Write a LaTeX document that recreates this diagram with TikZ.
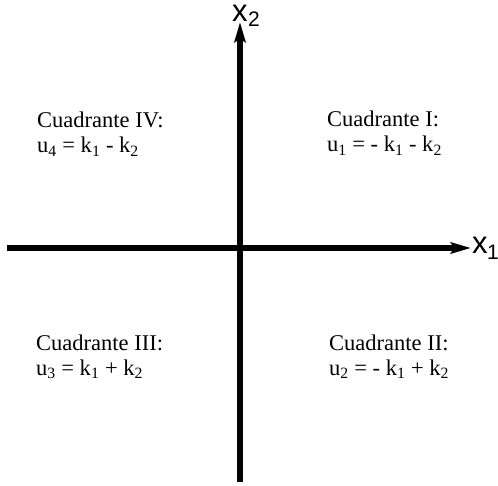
\documentclass[tikz,border=0pt]{standalone}
\usepackage{fontspec}
\setmainfont{Liberation Serif}
\newfontfamily\axisfont{Liberation Sans}
\usetikzlibrary{arrows.meta}
\tikzset{
  axis/.style={line width=6pt, -{Stealth[length=20pt,width=11pt,inset=3pt]}},
  qtext/.style={anchor=base west, inner sep=0pt, font=\fontsize{22.5}{24}\selectfont},
  axlabel/.style={anchor=base west, inner sep=0pt, font=\axisfont\fontsize{31}{34}\selectfont},
  axsub/.style={anchor=base west, inner sep=0pt, font=\axisfont\fontsize{21}{22}\selectfont}
}
\begin{document}
\begin{tikzpicture}[x=1pt,y=-1pt]
\useasboundingbox (0,0) rectangle (498,486);
\coordinate (xl) at (7,248);
\coordinate (xr) at (471,248);
\coordinate (yb) at (240,482);
\coordinate (yt) at (240,22);
\draw[axis] (xl) -- (xr);
\draw[axis] (yb) -- (yt);
\node[axlabel] (x1) at (472,254) {x};
\node[axsub] (x1s) at (487,260) {1};
\node[axlabel] (x2) at (232,21.5) {x};
\node[axsub] (x2s) at (248,27) {2};
\node[qtext] (q4a) at (37,128) {Cuadrante IV:};
\node[qtext] (q4b) at (37,153) {u\textsubscript{4} = k\textsubscript{1} - k\textsubscript{2}};
\node[qtext] (q1a) at (327,127) {Cuadrante I:};
\node[qtext] (q1b) at (327,152) {u\textsubscript{1} = - k\textsubscript{1} - k\textsubscript{2}};
\node[qtext] (q3a) at (36,351) {Cuadrante III:};
\node[qtext] (q3b) at (36,375) {u\textsubscript{3} = k\textsubscript{1} + k\textsubscript{2}};
\node[qtext] (q2a) at (329,351) {Cuadrante II:};
\node[qtext] (q2b) at (329,375) {u\textsubscript{2} = - k\textsubscript{1} + k\textsubscript{2}};
\end{tikzpicture}
\end{document}
